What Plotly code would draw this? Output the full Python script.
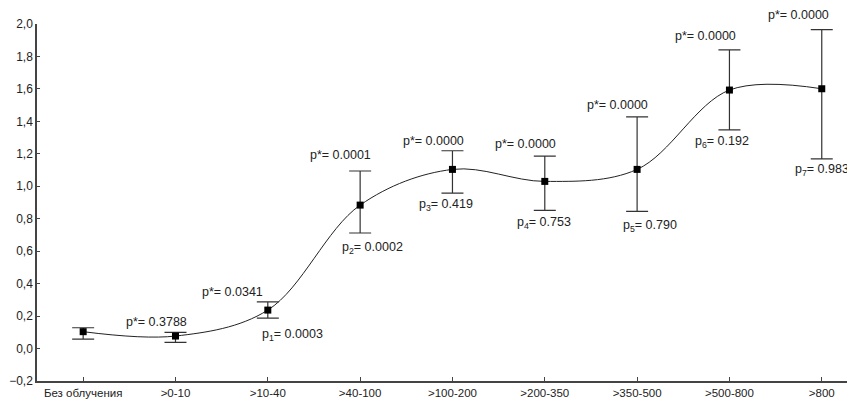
import plotly.graph_objects as go

categories = ["Без облучения", ">0-10", ">10-40", ">40-100", ">100-200",
              ">200-350", ">350-500", ">500-800", ">800"]
means = [0.104, 0.077, 0.237, 0.884, 1.104, 1.030, 1.104, 1.593, 1.601]
upper = [0.128, 0.100, 0.288, 1.094, 1.219, 1.186, 1.428, 1.841, 1.965]
lower = [0.058, 0.038, 0.188, 0.712, 0.958, 0.851, 0.845, 1.348, 1.169]

pstar_labels = [None, "p*= 0.3788", "p*= 0.0341", "p*= 0.0001", "p*= 0.0000",
                "p*= 0.0000", "p*= 0.0000", "p*= 0.0000", "p*= 0.0000"]
pn_labels = [None, None, "p<sub>1</sub>= 0.0003", "p<sub>2</sub>= 0.0002",
             "p<sub>3</sub>= 0.419", "p<sub>4</sub>= 0.753", "p<sub>5</sub>= 0.790",
             "p<sub>6</sub>= 0.192", "p<sub>7</sub>= 0.983"]

# label offsets (pixels) relative to bar ends
pstar_dx = [0, -19, -35, -20, -19, -19, -20, -24, -23]
pstar_dy = [0, 1, 1, 7, 1, 3, 3, 5, 6]
pn_dx = [0, 0, 25, 12, -6, -1, 13, -7, 0]
pn_dy = [0, 0, -7, -5, -2, -3, -5, -2, -1]

x = list(range(len(categories)))
err_plus = [u - m for u, m in zip(upper, means)]
err_minus = [m - l for m, l in zip(means, lower)]

fig = go.Figure()
fig.add_trace(go.Scatter(
    x=x, y=means, mode="lines", line=dict(color="#222222", width=1, shape="spline", smoothing=1.0),
    hoverinfo="skip", showlegend=False))
fig.add_trace(go.Scatter(
    x=x, y=means, mode="markers",
    marker=dict(symbol="square", size=7, color="#000000"),
    error_y=dict(type="data", symmetric=False, array=err_plus, arrayminus=err_minus,
                 color="#333333", thickness=1.2, width=11),
    showlegend=False))

ann = []
for i in x:
    if pstar_labels[i]:
        ann.append(dict(x=i, y=upper[i], text=pstar_labels[i], showarrow=False,
                        xshift=pstar_dx[i], yshift=pstar_dy[i], yanchor="bottom",
                        font=dict(size=12.5, color="#222222")))
    if pn_labels[i]:
        ann.append(dict(x=i, y=lower[i], text=pn_labels[i], showarrow=False,
                        xshift=pn_dx[i], yshift=pn_dy[i], yanchor="top",
                        font=dict(size=12.5, color="#222222")))

# page body has an 8px margin, so the figure is sized to fit the window from (8, 8)
fig.update_layout(
    width=847, height=395,
    margin=dict(l=29, r=0, t=16, b=22, autoexpand=False),
    paper_bgcolor="white", plot_bgcolor="white",
    font=dict(family="Liberation Sans, Arial, sans-serif", size=12, color="#222222"),
    separators=", ",
    annotations=ann,
    xaxis=dict(tickmode="array", tickvals=x, ticktext=categories, range=[-0.5, 8.36],
               automargin=False, ticklabelstandoff=0,
               showgrid=False, zeroline=False, showline=True, linecolor="#444444", linewidth=1.5,
               ticks="inside", ticklen=4, tickcolor="#444444", tickfont=dict(size=11.5)),
    yaxis=dict(range=[-0.2, 2.0], tickmode="array",
               tickvals=[-0.2, 0, 0.2, 0.4, 0.6, 0.8, 1.0, 1.2, 1.4, 1.6, 1.8, 2.0],
               tickformat=".1f", showgrid=False, zeroline=False, showline=True,
               automargin=False,
               linecolor="#444444", linewidth=1.5, ticks="inside", ticklen=3,
               tickcolor="#444444", tickfont=dict(size=12)),
)

fig.write_html("out.html")
